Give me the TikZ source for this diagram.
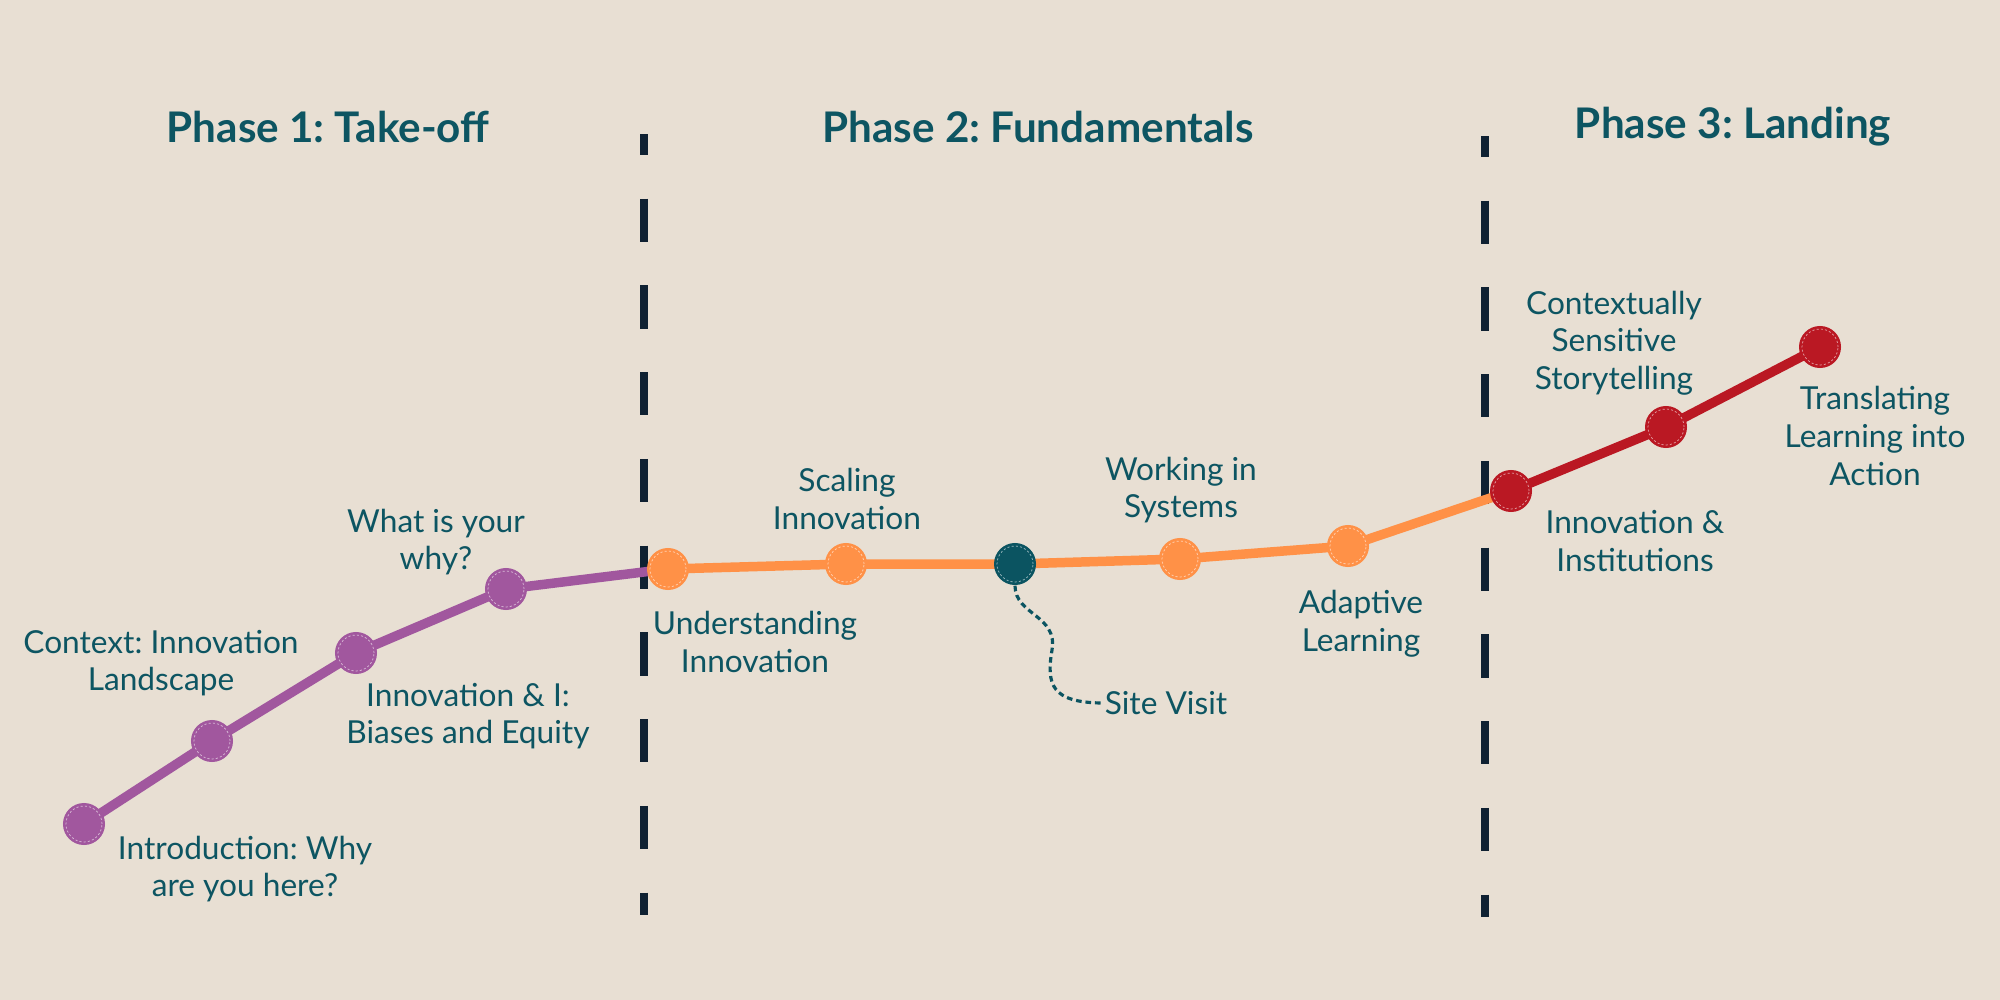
\documentclass[tikz,border=0pt]{standalone}
\usepackage{fontspec}
\setmainfont{Lato}
\usetikzlibrary{positioning}
\usepackage{xcolor}
\frenchspacing

\definecolor{bgbeige}{HTML}{E8DFD3}
\definecolor{tealtext}{HTML}{0D5562}
\definecolor{plum}{HTML}{A1579E}
\definecolor{tangerine}{HTML}{FF9147}
\definecolor{crimson}{HTML}{BA1823}
\definecolor{deepteal}{HTML}{0B5461}
\definecolor{navy}{HTML}{0F2132}

\begin{document}
\begin{tikzpicture}[x=0.01cm, y=-0.01cm,
    dot/.style={circle, fill=#1, minimum size=0.42cm, inner sep=0pt,
      path picture={\draw[white, opacity=0.6, dash pattern=on 0.6pt off 0.6pt, line width=0.2pt]
        (path picture bounding box.center) circle (0.18cm);}},
    lbl/.style={text=tealtext, align=center, inner sep=1pt,
      font=\fontsize{9}{10.7}\selectfont},
    phase/.style={text=tealtext, font=\fontsize{12}{14}\selectfont\bfseries},
    track/.style={line width=2.7pt, #1},
    divider/.style={navy, line width=2.3pt,
      dash pattern=on 0.43cm off 0.437cm, dash phase=0.22cm}]

% Background
\fill[bgbeige] (0,0) rectangle (2000,1000);

% Phase titles
\node[phase] (ph1) at (328,127) {Phase 1: Take-off};
\node[phase] (ph2) at (1038,127) {Phase 2: Fundamentals};
\node[phase] (ph3) at (1733,127) {Phase 3: Landing};

% Dashed dividers between the phases
\coordinate (V1top) at (644,134);
\coordinate (V1bot) at (644,915);
\coordinate (V2top) at (1485,136);
\coordinate (V2bot) at (1485,917);
\draw[divider] (V1top) -- (V1bot);
\draw[divider] (V2top) -- (V2bot);

% Define the stops on the path
\coordinate (P1) at (84,824);
\coordinate (P2) at (212,741);
\coordinate (P3) at (356,653);
\coordinate (P4) at (506,589);
\coordinate (O1) at (668,569);
\coordinate (O2) at (846,564);
\coordinate (SV) at (1015,564);
\coordinate (O3) at (1180,559);
\coordinate (O4) at (1348,546);
\coordinate (R1) at (1511,491);
\coordinate (R2) at (1666,427);
\coordinate (R3) at (1820,347);

% Draw the tracks
\draw[track=plum] (P1) -- (P2) -- (P3) -- (P4) -- (O1);
\draw[track=tangerine] (O1) -- (O2) -- (SV) -- (O3) -- (O4) -- (R1);
\draw[track=crimson] (R1) -- (R2) -- (R3);

% Draw the dots
\node[dot=plum] (p1) at (P1) {};
\node[dot=plum] (p2) at (P2) {};
\node[dot=plum] (p3) at (P3) {};
\node[dot=plum] (p4) at (P4) {};
\node[dot=tangerine] (o1) at (O1) {};
\node[dot=tangerine] (o2) at (O2) {};
\node[dot=deepteal] (sv) at (SV) {};
\node[dot=tangerine] (o3) at (O3) {};
\node[dot=tangerine] (o4) at (O4) {};
\node[dot=crimson] (r1) at (R1) {};
\node[dot=crimson] (r2) at (R2) {};
\node[dot=crimson] (r3) at (R3) {};

% Labels
\node[lbl] (lintro) at (245,869) {Introduction: Why\\are you here?};
\node[lbl] (lcontext) at (161,663) {Context: Innovation\\Landscape};
\node[lbl] (lbias) at (468,716) {Innovation \& I:\\Biases and Equity};
\node[lbl] (lwhy) at (436,542) {What is your\\why?};
\node[lbl] (lunder) at (755,642) {Understanding\\Innovation};
\node[lbl] (lscale) at (847,499) {Scaling\\Innovation};
\node[lbl] (lsystems) at (1181,490) {Working in\\Systems};
\node[lbl] (lsite) at (1166,703) {Site Visit};
\node[lbl] (ladapt) at (1361,624) {Adaptive\\Learning};
\node[lbl] (lstory) at (1614,343) {Contextually\\Sensitive\\Storytelling};
\node[lbl] (linst) at (1635,541) {Innovation \&\\Institutions};
\node[lbl] (ltrans) at (1875,436) {Translating\\Learning into\\Action};

% Site visit pointer
\draw[deepteal, line width=0.9pt, dash pattern=on 1.6pt off 1.1pt]
  (sv.south) .. controls (1015,615) and (1058,615) .. (1052,650)
  .. controls (1046,685) and (1052,702) .. (lsite.west);
\end{tikzpicture}
\end{document}
